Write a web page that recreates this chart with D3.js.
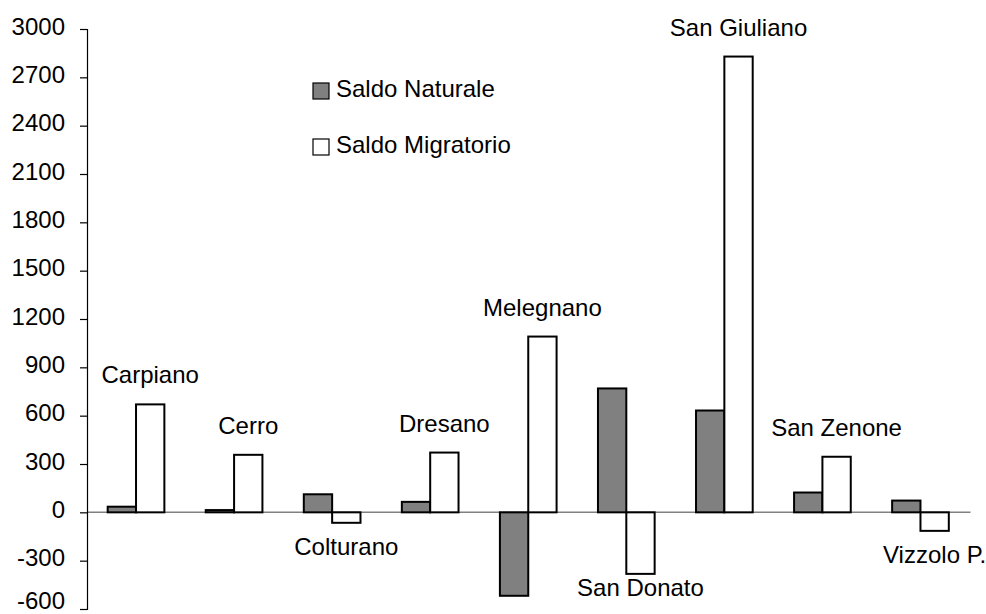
<!DOCTYPE html>
<html>
<head>
<meta charset="utf-8">
<script src="https://cdn.jsdelivr.net/npm/d3@7"></script>
<style>
  html, body { margin: 0; padding: 0; background: #fff; }
  svg { display: block; font-family: Arial, "Liberation Sans", sans-serif; }
</style>
</head>
<body>
<svg id="chart" width="986" height="614"></svg>
<script>
// ---- data ----
const categories = ["Carpiano", "Cerro", "Colturano", "Dresano", "Melegnano", "San Donato", "San Giuliano", "San Zenone", "Vizzolo P."];
const saldoNaturale = [35, 14, 112, 65, -518, 769, 632, 123, 73];
const saldoMigratorio = [670, 357, -65, 371, 1091, -382, 2829, 345, -115];
const seriesNames = ["Saldo Naturale", "Saldo Migratorio"];
const seriesColors = ["#808080", "#ffffff"];
const yTicks = [-600, -300, 0, 300, 600, 900, 1200, 1500, 1800, 2100, 2400, 2700, 3000];

// ---- layout ----
const svg = d3.select("#chart");
const W = 986, H = 614;
const axisX = 87, plotRight = 969.5, yTop = 29, yBottom = 609;
const fontSize = 24;

const x = d3.scaleBand().domain(categories).range([axisX, plotRight]).paddingInner(0).paddingOuter(0);
const xs = d3.scaleBand().domain(seriesNames).range([0, x.bandwidth()]).paddingInner(0).paddingOuter(0.73);
const y = d3.scaleLinear().domain([-600, 3000]).range([yBottom, yTop]);

// zero line
svg.append("line")
  .attr("x1", axisX).attr("x2", plotRight + 1)
  .attr("y1", y(0)).attr("y2", y(0))
  .attr("stroke", "#808080").attr("stroke-width", 1.5);

// y axis
const yAxis = d3.axisLeft(y).tickValues(yTicks).tickSize(7).tickPadding(15).tickFormat(d => String(d));
const gAxis = svg.append("g").attr("transform", `translate(${axisX},0)`).call(yAxis);
gAxis.select(".domain").attr("stroke", "#000").attr("stroke-width", 1.2);
gAxis.selectAll(".tick line").attr("stroke", "#000").attr("stroke-width", 1.2);
gAxis.selectAll(".tick text")
  .attr("font-size", fontSize).attr("font-family", "Arial, 'Liberation Sans', sans-serif")
  .attr("fill", "#000").attr("dy", d => d === -600 ? -1 : 5);

// bars
const rows = categories.map((c, i) => ({ cat: c, vals: [saldoNaturale[i], saldoMigratorio[i]] }));
const groups = svg.append("g").selectAll("g").data(rows).join("g")
  .attr("transform", d => `translate(${x(d.cat)},0)`);

groups.selectAll("rect").data(d => d.vals.map((v, j) => ({ s: seriesNames[j], v, j })))
  .join("rect")
  .attr("x", d => xs(d.s))
  .attr("width", xs.bandwidth())
  .attr("y", d => Math.min(y(d.v), y(0)))
  .attr("height", d => Math.abs(y(d.v) - y(0)))
  .attr("fill", d => seriesColors[d.j])
  .attr("stroke", "#000").attr("stroke-width", 2);

// category labels (centered over migratory bar)
svg.append("g").selectAll("text").data(rows).join("text")
  .attr("x", d => x(d.cat) + xs("Saldo Migratorio") + xs.bandwidth() / 2)
  .attr("y", d => {
    const m = d.vals[1];
    if (m >= 0) return y(m) - 21;
    return Math.min(y(m) + 32, H - 18);
  })
  .attr("text-anchor", "middle")
  .attr("font-size", fontSize)
  .attr("fill", "#000")
  .text(d => d.cat);

// legend
const legend = svg.append("g");
seriesNames.forEach((name, i) => {
  const ly = 83 + i * 56;
  legend.append("rect")
    .attr("x", 313).attr("y", ly).attr("width", 16).attr("height", 16)
    .attr("fill", seriesColors[i]).attr("stroke", "#000").attr("stroke-width", 1.2);
  legend.append("text")
    .attr("x", 336).attr("y", ly + 13.5)
    .attr("font-size", fontSize).attr("fill", "#000")
    .text(name);
});
</script>
</body>
</html>
